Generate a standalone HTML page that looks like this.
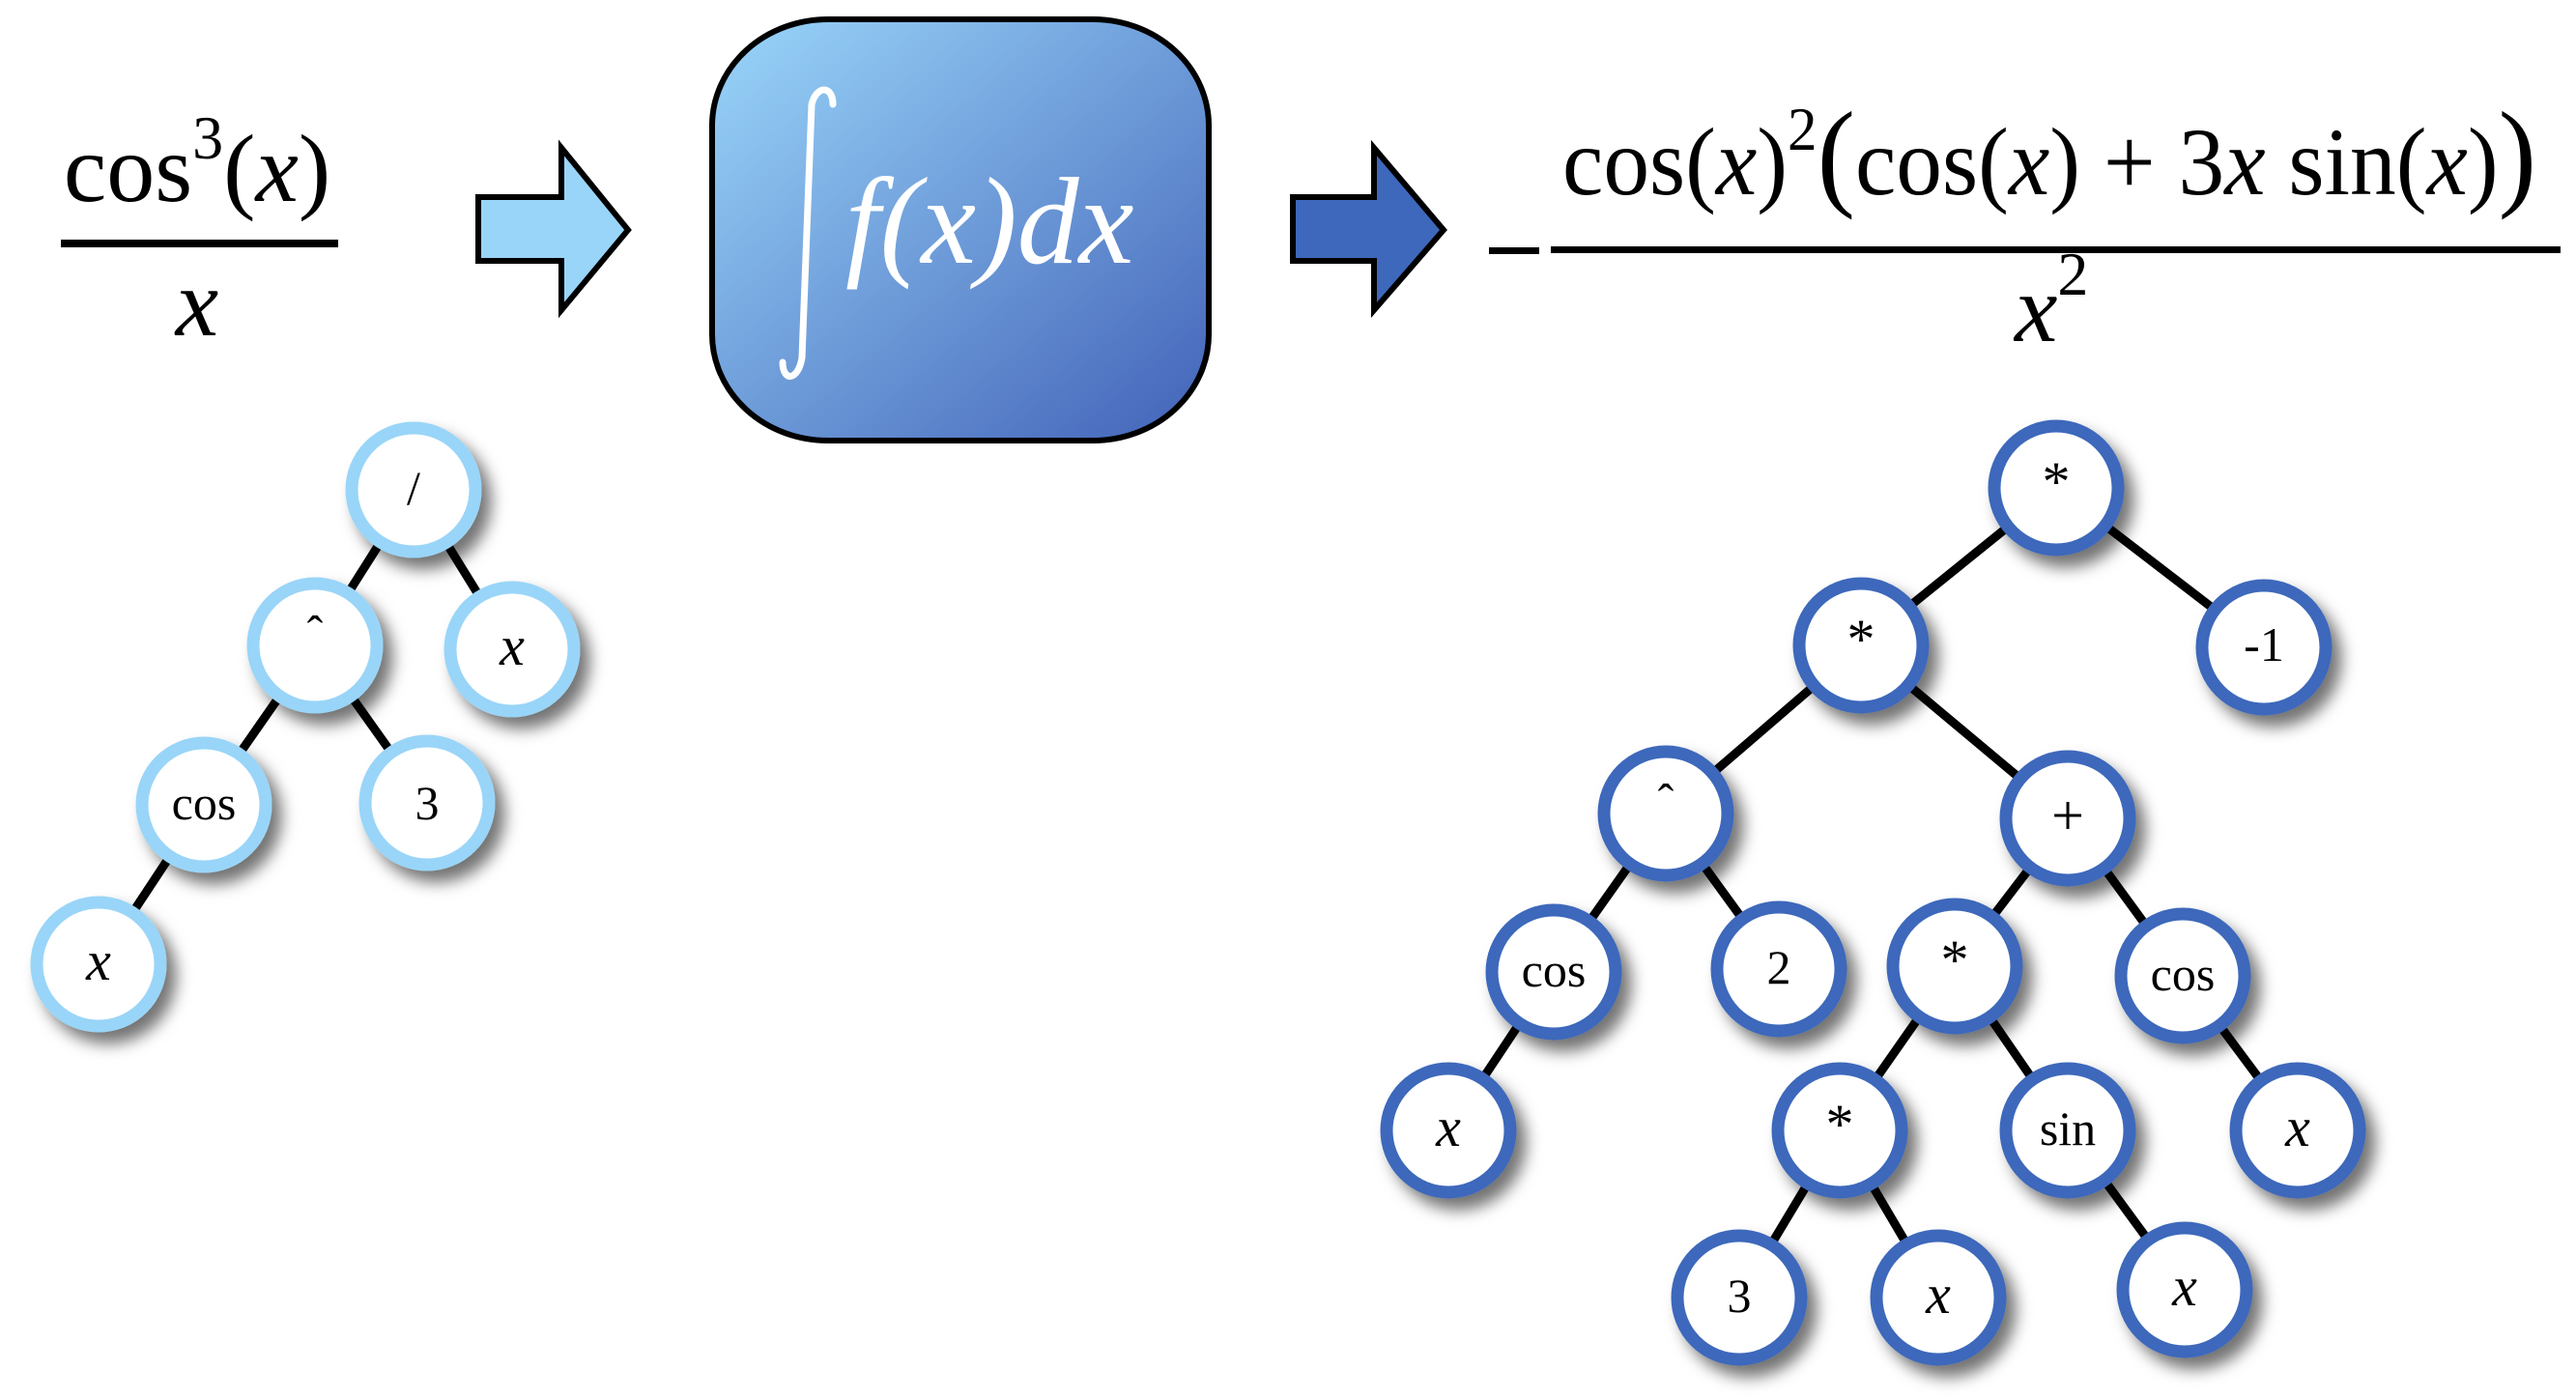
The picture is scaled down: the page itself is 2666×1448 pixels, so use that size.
<!DOCTYPE html>
<html><head><meta charset="utf-8"><style>
html,body{margin:0;padding:0;background:#fff;}
svg{display:block;}
</style></head><body>
<svg width="2666" height="1448" viewBox="0 0 2666 1448" xmlns="http://www.w3.org/2000/svg" font-family="'Liberation Serif', 'DejaVu Serif', serif">
<defs>
<linearGradient id="bg" x1="0" y1="0" x2="1" y2="1">
<stop offset="0" stop-color="#9ad6fa"/><stop offset="1" stop-color="#4262b8"/>
</linearGradient>
<filter id="sh" x="-50%" y="-50%" width="200%" height="200%">
<feDropShadow dx="10" dy="12" stdDeviation="8" flood-color="#000" flood-opacity="0.55"/>
</filter>
</defs>

<!-- left formula -->
<text x="204" y="208" font-size="100" text-anchor="middle" font-family="Liberation Serif, serif">cos<tspan font-size="64" dy="-44">3</tspan><tspan dy="44">(</tspan><tspan font-style="italic">x</tspan>)</text>
<rect x="63" y="248" width="287" height="8" fill="#000"/>
<text x="204" y="347" font-size="100" font-style="italic" text-anchor="middle" font-family="Liberation Serif, serif">x</text>

<!-- arrow 1 -->
<polygon points="495,204 581,204 581,153 650,238 581,321 581,270 495,270" fill="#99d5f8" stroke="#000" stroke-width="6"/>

<!-- box -->
<rect x="737" y="20" width="514" height="436" rx="120" ry="110" fill="url(#bg)" stroke="#000" stroke-width="6"/>
<path d="M862,108 C862,88 845,88 840,108 L830,370 C826,395 810,395 810,375" fill="none" stroke="#fff" stroke-width="7" stroke-linecap="round"/>
<text x="875" y="272" font-size="128" fill="#fff" font-style="italic" font-family="Liberation Serif, serif">f(x)dx</text>

<!-- arrow 2 -->
<polygon points="1338,204 1422,204 1422,153 1494,238 1422,321 1422,270 1338,270" fill="#3e68bb" stroke="#000" stroke-width="6"/>

<!-- right formula -->
<rect x="1541" y="256" width="52" height="7" fill="#000"/>
<rect x="1605" y="255" width="1045" height="7" fill="#000"/>
<text x="1617" y="201" font-size="100" textLength="1008" lengthAdjust="spacingAndGlyphs" font-family="Liberation Serif, serif">cos(<tspan font-style="italic">x</tspan>)<tspan font-size="64" dy="-46">2</tspan><tspan dy="46" font-size="124">(</tspan>cos(<tspan font-style="italic">x</tspan>) + 3<tspan font-style="italic">x</tspan> sin(<tspan font-style="italic">x</tspan>)<tspan font-size="124">)</tspan></text>
<text x="2085" y="353" font-size="100" font-style="italic" font-family="Liberation Serif, serif">x<tspan font-style="normal" font-size="64" dy="-48">2</tspan></text>

<!-- left tree edges -->
<g stroke="#000" stroke-width="9">
<line x1="428" y1="507" x2="326" y2="668"/>
<line x1="428" y1="507" x2="530" y2="672"/>
<line x1="326" y1="668" x2="211" y2="833"/>
<line x1="326" y1="668" x2="442" y2="831"/>
<line x1="211" y1="833" x2="102" y2="998"/>
</g>
<g fill="#fff" stroke="#99d5f8" stroke-width="13" filter="url(#sh)">
<circle cx="428" cy="507" r="64"/>
<circle cx="326" cy="668" r="64"/>
<circle cx="530" cy="672" r="64"/>
<circle cx="211" cy="833" r="64"/>
<circle cx="442" cy="831" r="64"/>
<circle cx="102" cy="998" r="64"/>
</g>
<g font-size="50" text-anchor="middle" font-family="Liberation Serif, serif">
<text x="428" y="522">/</text>
<text x="326" y="672">ˆ</text>
<text x="530" y="688" font-style="italic" font-size="58">x</text>
<text x="211" y="848">cos</text>
<text x="442" y="848">3</text>
<text x="102" y="1014" font-style="italic" font-size="58">x</text>
</g>

<!-- right tree edges -->
<g stroke="#000" stroke-width="9">
<line x1="2128" y1="505" x2="1926" y2="668"/>
<line x1="2128" y1="505" x2="2343" y2="670"/>
<line x1="1926" y1="668" x2="1724" y2="842"/>
<line x1="1926" y1="668" x2="2140" y2="847"/>
<line x1="1724" y1="842" x2="1608" y2="1006"/>
<line x1="1724" y1="842" x2="1841" y2="1003"/>
<line x1="2140" y1="847" x2="2023" y2="1000"/>
<line x1="2140" y1="847" x2="2259" y2="1010"/>
<line x1="1608" y1="1006" x2="1499" y2="1170"/>
<line x1="2023" y1="1000" x2="1904" y2="1170"/>
<line x1="2023" y1="1000" x2="2140" y2="1170"/>
<line x1="2259" y1="1010" x2="2378" y2="1170"/>
<line x1="1904" y1="1170" x2="1800" y2="1343"/>
<line x1="1904" y1="1170" x2="2006" y2="1343"/>
<line x1="2140" y1="1170" x2="2261" y2="1335"/>
</g>
<g fill="#fff" stroke="#3e68bb" stroke-width="13" filter="url(#sh)">
<circle cx="2128" cy="505" r="64"/>
<circle cx="1926" cy="668" r="64"/>
<circle cx="2343" cy="670" r="64"/>
<circle cx="1724" cy="842" r="64"/>
<circle cx="2140" cy="847" r="64"/>
<circle cx="1608" cy="1006" r="64"/>
<circle cx="1841" cy="1003" r="64"/>
<circle cx="2023" cy="1000" r="64"/>
<circle cx="2259" cy="1010" r="64"/>
<circle cx="1499" cy="1170" r="64"/>
<circle cx="1904" cy="1170" r="64"/>
<circle cx="2140" cy="1170" r="64"/>
<circle cx="2378" cy="1170" r="64"/>
<circle cx="1800" cy="1343" r="64"/>
<circle cx="2006" cy="1343" r="64"/>
<circle cx="2261" cy="1335" r="64"/>
</g>
<g font-size="50" text-anchor="middle" font-family="Liberation Serif, serif">
<text x="2128" y="518" font-size="58">*</text>
<text x="1926" y="681" font-size="58">*</text>
<text x="2343" y="684">-1</text>
<text x="1724" y="846">ˆ</text>
<text x="2140" y="864" font-size="60">+</text>
<text x="1608" y="1021">cos</text>
<text x="1841" y="1018">2</text>
<text x="2023" y="1013" font-size="58">*</text>
<text x="2259" y="1025">cos</text>
<text x="1499" y="1186" font-style="italic" font-size="58">x</text>
<text x="1904" y="1183" font-size="58">*</text>
<text x="2140" y="1185">sin</text>
<text x="2378" y="1186" font-style="italic" font-size="58">x</text>
<text x="1800" y="1358">3</text>
<text x="2006" y="1359" font-style="italic" font-size="58">x</text>
<text x="2261" y="1351" font-style="italic" font-size="58">x</text>
</g>
</svg>
</body></html>
